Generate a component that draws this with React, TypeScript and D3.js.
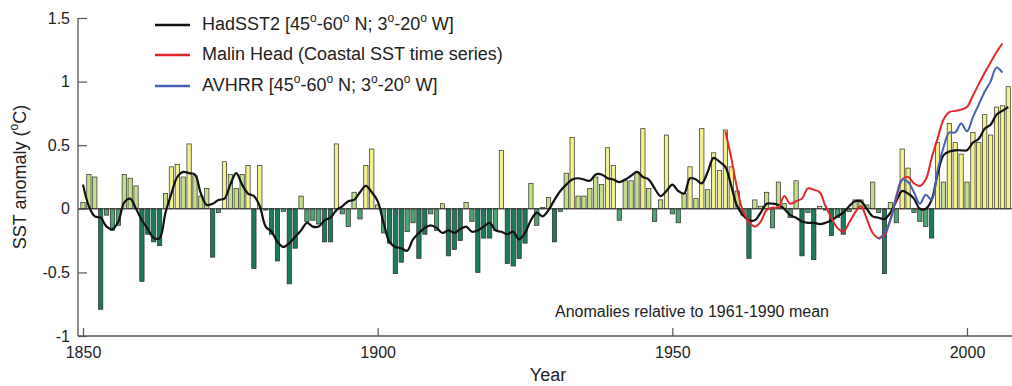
import React, { useEffect, useRef } from 'react';
import * as d3 from 'd3';

// annual bars, 1850 onward
const firstYear = 1850;
const barValues = [
  0.05, 0.27, 0.25, -0.79, -0.05, -0.17, -0.13, 0.27, 0.24, 0.18,
  -0.57, -0.2, -0.26, -0.29, 0.12, 0.33, 0.35, 0.25, 0.51, 0.26,
  0.1, 0.16, -0.38, -0.03, 0.37, 0.27, 0.16, 0.27, 0.34, -0.47,
  0.34, -0.01, -0.2, -0.41, -0.02, -0.59, -0.31, 0.1, -0.1, -0.09,
  -0.12, -0.26, -0.26, 0.51, -0.04, -0.14, 0.13, -0.08, 0.34, 0.47,
  0.03, -0.19, -0.27, -0.51, -0.42, -0.18, -0.11, -0.39, -0.2, -0.04,
  -0.17, 0.04, -0.37, -0.32, -0.25, 0.05, -0.1, -0.5, -0.23, -0.23,
  -0.17, 0.46, -0.43, -0.45, -0.39, -0.27, 0.2, -0.13, 0.01, 0.09,
  -0.26, -0.02, 0.28, 0.56, 0.1, 0.1, 0.16, 0.25, 0.19, 0.48,
  0.34, -0.09, 0.22, 0.22, 0.29, 0.63, 0.16, -0.1, 0.07, 0.58,
  -0.04, -0.11, 0.12, 0.33, 0.08, 0.63, 0.15, 0.44, 0.3, 0.62,
  0.33, 0.14, -0.05, -0.39, 0.07, 0.02, 0.13, -0.15, 0.21, 0.04,
  -0.07, 0.22, -0.37, -0.03, -0.4, 0.02, -0.01, -0.21, -0.07, -0.2,
  -0.02, 0.07, 0.07, 0.03, 0.21, -0.03, -0.51, 0.05, -0.11, 0.47,
  0.32, -0.03, -0.1, -0.14, -0.23, 0.52, 0.21, 0.67, 0.52, 0.43,
  0.21, 0.6, 0.52, 0.74, 0.58, 0.8, 0.81, 0.96
];

// HadSST2 smoothed, 1850 onward
const hadValues = [
  0.19, 0.02, -0.06, -0.07, -0.14, -0.16, -0.1, 0.05, 0.08, 0.0,
  -0.09, -0.16, -0.23, -0.23, -0.03, 0.12, 0.25, 0.29, 0.28, 0.27,
  0.12, 0.03, 0.04, 0.07, 0.08, 0.19, 0.28, 0.19, 0.12, 0.1,
  0.02, -0.14, -0.18, -0.26, -0.3, -0.27, -0.22, -0.17, -0.11, -0.14,
  -0.14, -0.09, -0.07, -0.01, 0.02, 0.06, 0.07, 0.13, 0.18, 0.13,
  0.06, -0.11, -0.26, -0.3, -0.31, -0.33, -0.24, -0.19, -0.15, -0.13,
  -0.15, -0.19, -0.17, -0.19, -0.16, -0.14, -0.18, -0.17, -0.14, -0.11,
  -0.17, -0.18, -0.2, -0.18, -0.24, -0.19, -0.09, -0.03, -0.06, -0.01,
  0.07, 0.14, 0.19, 0.23, 0.24, 0.23, 0.22, 0.27, 0.27, 0.24,
  0.23, 0.21, 0.23, 0.26, 0.29, 0.25, 0.23, 0.16, 0.1, 0.14,
  0.19, 0.14, 0.12, 0.24, 0.23, 0.2, 0.29, 0.4, 0.37, 0.33,
  0.18, 0.02, -0.05, -0.09, -0.09, -0.03, 0.04, 0.04, 0.03, 0.0,
  -0.05, -0.07, -0.1, -0.11, -0.11, -0.12, -0.11, -0.09, -0.06, -0.03,
  0.02, 0.06, 0.06, 0.0, -0.06, -0.07, -0.08, -0.03, 0.06, 0.14,
  0.12, 0.08, 0.0, 0.0, 0.07, 0.27, 0.42, 0.45, 0.46, 0.46,
  0.46, 0.52, 0.55, 0.63, 0.66, 0.74, 0.77, 0.8
];

// Malin Head, 1959 onward
const malinStart = 1959;
const malinValues = [
  0.61, 0.4, 0.16, -0.02, -0.1, -0.14, -0.1, -0.01, 0.01, 0.01,
  0.1, 0.04, 0.06, 0.08, 0.16, 0.15, 0.13, 0.02, -0.07, -0.15,
  -0.18, -0.11, -0.03, 0.02, -0.08, -0.19, -0.23, -0.21, -0.08, 0.08,
  0.23, 0.25, 0.2, 0.18, 0.23, 0.4, 0.55, 0.7, 0.76, 0.77,
  0.78, 0.8, 0.89, 0.98, 1.07, 1.15, 1.23, 1.3
];

// AVHRR, 1985 onward
const avhrrStart = 1985;
const avhrrValues = [
  -0.24, -0.19, -0.09, 0.1, 0.23, 0.21, 0.13, 0.04, 0.11, 0.07,
  0.3, 0.48, 0.6, 0.6, 0.67, 0.61, 0.72, 0.82, 0.92, 1.0,
  1.11, 1.07
];

const xTicks = [1850, 1900, 1950, 2000];
const yTicks = [-1, -0.5, 0, 0.5, 1, 1.5];

const legendItems = [
  { color: '#111', label: ['HadSST2 [45', 'o', '-60', 'o', ' N; 3', 'o', '-20', 'o', ' W]'] },
  { color: '#e3262b', label: ['Malin Head (Coastal SST time series)'] },
  { color: '#4561b3', label: ['AVHRR [45', 'o', '-60', 'o', ' N; 3', 'o', '-20', 'o', ' W]'] }
];

const FONT = '"Liberation Sans", Arial, sans-serif';

function barColor(v: number) {
  if (v >= 0.3) return '#f2f18d';
  if (v >= 0) return '#c5de8a';
  if (v > -0.2) return '#4fa474';
  return '#1d7b5c';
}

function SstChart() {
  const svgRef = useRef<SVGSVGElement | null>(null);

  useEffect(() => {
    if (!svgRef.current) return;
    const svg = d3.select(svgRef.current);
    svg.selectAll('*').remove();

    const x = d3.scaleLinear().domain([1850, 2000]).range([83, 967]);
    const y = d3.scaleLinear().domain([-1, 1.5]).range([336, 18]);
    const left = 78;
    const right = 1012;
    const barW = 4.3;

    // bars
    svg.append('g')
      .selectAll('rect')
      .data(barValues)
      .join('rect')
      .attr('x', (d, i) => x(firstYear + i) - barW / 2)
      .attr('width', barW)
      .attr('y', d => Math.min(y(d), y(0)))
      .attr('height', d => Math.abs(y(d) - y(0)))
      .attr('fill', d => barColor(d))
      .attr('stroke', '#2b2b2b')
      .attr('stroke-width', 0.7);

    svg.append('line')
      .attr('x1', left).attr('x2', right)
      .attr('y1', y(0)).attr('y2', y(0))
      .attr('stroke', '#2b2b2b')
      .attr('stroke-width', 1);

    const line = d3.line<number>()
      .curve(d3.curveCatmullRom.alpha(0.5));

    const drawSeries = (start: number, vals: number[], color: string, w: number) => {
      svg.append('path')
        .datum(vals)
        .attr('fill', 'none')
        .attr('stroke', color)
        .attr('stroke-width', w)
        .attr('stroke-linejoin', 'round')
        .attr('d', line.x((d, i) => x(start + i)).y(d => y(d)));
    };

    drawSeries(firstYear, hadValues, '#111', 2.2);
    drawSeries(malinStart, malinValues, '#e3262b', 2);
    drawSeries(avhrrStart, avhrrValues, '#4561b3', 2);

    // axes
    const yAxis = svg.append('g')
      .attr('transform', `translate(${left},0)`)
      .call(
        d3.axisLeft(y)
          .tickValues(yTicks)
          .tickSizeInner(-9)
          .tickSizeOuter(0)
          .tickPadding(8)
          .tickFormat(d => String(d))
      );
    const xAxis = svg.append('g')
      .attr('transform', `translate(0,${y(-1)})`)
      .call(
        d3.axisBottom(x)
          .tickValues(xTicks)
          .tickSizeInner(-8)
          .tickSizeOuter(0)
          .tickPadding(11)
          .tickFormat(d => String(d))
      );
    [yAxis, xAxis].forEach(g => {
      g.select('.domain').remove();
      g.selectAll('line').attr('stroke', '#555').attr('stroke-width', 1.2);
      g.selectAll('text')
        .attr('fill', '#222')
        .style('font-family', FONT)
        .style('font-size', '16px');
    });
    svg.append('line')
      .attr('x1', left).attr('x2', left)
      .attr('y1', y(1.5)).attr('y2', y(-1))
      .attr('stroke', '#555').attr('stroke-width', 1.3);
    svg.append('line')
      .attr('x1', left).attr('x2', right)
      .attr('y1', y(-1)).attr('y2', y(-1))
      .attr('stroke', '#555').attr('stroke-width', 1.3);

    // axis titles
    const yTitle = svg.append('text')
      .attr('transform', `translate(21,${(y(1.5) + y(-1)) / 2}) rotate(-90)`)
      .attr('text-anchor', 'middle')
      .attr('dominant-baseline', 'middle')
      .attr('fill', '#222')
      .style('font-family', FONT)
      .style('font-size', '18px');
    yTitle.append('tspan').text('SST anomaly (');
    yTitle.append('tspan').attr('dy', -6).style('font-size', '12px').text('o');
    yTitle.append('tspan').attr('dy', 6).text('C)');

    svg.append('text')
      .attr('x', 548).attr('y', 381)
      .attr('text-anchor', 'middle')
      .attr('fill', '#222')
      .style('font-family', FONT)
      .style('font-size', '18px')
      .text('Year');

    svg.append('text')
      .attr('x', 555).attr('y', 313)
      .attr('dominant-baseline', 'middle')
      .attr('fill', '#222')
      .style('font-family', FONT)
      .style('font-size', '16px')
      .text('Anomalies relative to 1961-1990 mean');

    // legend
    const rowY = [25, 55, 86];
    legendItems.forEach((item, i) => {
      const g = svg.append('g').attr('transform', `translate(0,${rowY[i]})`);
      g.append('line')
        .attr('x1', 155).attr('x2', 190)
        .attr('stroke', item.color)
        .attr('stroke-width', 2.5);
      const t = g.append('text')
        .attr('x', 202)
        .attr('dominant-baseline', 'middle')
        .attr('fill', '#222')
        .style('font-family', FONT)
        .style('font-size', '18px');
      let raised = false;
      item.label.forEach(part => {
        const isSup = part === 'o';
        const span = t.append('tspan').text(part);
        if (isSup) {
          span.attr('dy', -6).style('font-size', '12px');
          raised = true;
        } else if (raised) {
          span.attr('dy', 6);
          raised = false;
        }
      });
    });
  }, []);

  return (
    <svg
      ref={svgRef}
      width={1012}
      height={386}
      style={{ position: 'absolute', left: 0, top: 0, background: '#fff' }}
    />
  );
}

export default function App() {
  return <SstChart />;
}
